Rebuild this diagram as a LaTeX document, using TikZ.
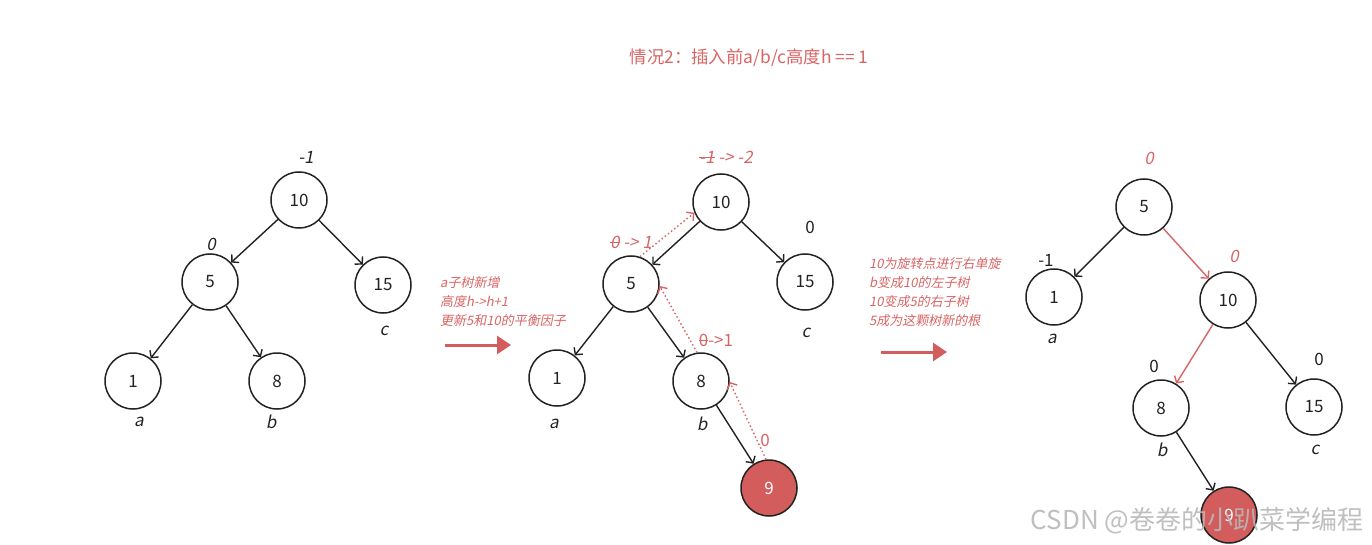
\documentclass[tikz,border=0pt]{standalone}
\usepackage{fontspec}
\setmainfont{Noto Sans CJK SC}
\newfontfamily\slfont[FakeSlant=0.2]{Noto Sans CJK SC}
\usetikzlibrary{arrows.meta}
\definecolor{rd}{HTML}{D96464}
\definecolor{ink}{HTML}{222222}
\definecolor{fillr}{HTML}{D35C5C}
\definecolor{wm}{HTML}{B8B8B8}
\newsavebox\stbox
\newcommand\strk[1]{\sbox\stbox{#1}\rlap{\usebox\stbox}\raisebox{.32em}{\rule{\wd\stbox}{1pt}}}
\begin{document}
\begin{tikzpicture}[x=1pt,y=-1pt,
 tn/.style={circle,draw=ink,line width=1.5pt,minimum size=56pt,inner sep=0pt,font=\fontsize{17}{20}\selectfont,text=ink},
 hot/.style={tn,fill=fillr,text=white},
 edge/.style={draw=ink,line width=1.4pt,-{Straight Barb[length=5pt,width=11pt]}},
 redge/.style={edge,draw=rd},
 dots/.style={draw=rd,line width=1.4pt,dash pattern=on 1.5pt off 2.5pt,-{Straight Barb[length=5pt,width=11pt]}},
 lab/.style={font=\slfont\fontsize{17}{20}\selectfont,text=ink},
 num/.style={font=\fontsize{17}{20}\selectfont,text=ink},
 rlab/.style={font=\slfont\fontsize{17}{20}\selectfont,text=rd},
 rnum/.style={font=\fontsize{17}{20}\selectfont,text=rd},
 note/.style={font=\slfont\fontsize{13}{19}\selectfont,text=rd,align=left,anchor=north west,inner sep=0pt},
 bigarrow/.style={draw=fillr,line width=3pt,-{Triangle[length=14pt,width=18pt]}}
]
\useasboundingbox (0,0) rectangle (1372,545);

% title
\node[font=\fontsize{17.4}{20}\selectfont,text=rd] (title) at (749,58) {情况2：插入前a/b/c高度h == 1};

% ---------- tree 1 ----------
\node[tn] (a10) at (299,200) {10};
\node[tn] (a5) at (210,282) {5};
\node[tn] (a15) at (383,285) {15};
\node[tn] (a1) at (133,381) {1};
\node[tn] (a8) at (277,381) {8};
\draw[edge] (a10) -- (a5);
\draw[edge] (a10) -- (a15);
\draw[edge] (a5) -- (a1);
\draw[edge] (a5) -- (a8);
\node[lab] (la10) at (306,157) {-1};
\node[lab] (la5) at (211,244) {0};
\node[lab] (lac) at (384,331) {c};
\node[lab] (laa) at (139,422) {a};
\node[lab] (lab) at (271,422) {b};

% arrow 1
\node[note] (n1) at (440,276) {a子树新增\\高度h->h+1\\更新5和10的平衡因子};
\coordinate (p1s) at (445,345);
\coordinate (p1e) at (511,345);
\draw[bigarrow] (p1s) -- (p1e);

% ---------- tree 2 ----------
\node[tn] (b10) at (721,202) {10};
\node[tn] (b5) at (631,284) {5};
\node[tn] (b15) at (805,282) {15};
\node[tn] (b1) at (557,378) {1};
\node[tn] (b8) at (701,381) {8};
\node[hot] (b9) at (769,488) {9};
\draw[edge] (b10) -- (b5);
\draw[edge] (b10) -- (b15);
\draw[edge] (b5) -- (b1);
\draw[edge] (b5) -- (b8);
\draw[edge] (b8) -- (b9);
\draw[dots] (b9.96) -- (b8.-2);
\draw[dots] (b8.98) -- (b5.-4);
\draw[dots] (b5.72) -- (b10.202);
\node[rlab] (lb10) at (726,157) {\strk{-1} -> -2};
\node[rlab] (lb5) at (631,242) {\strk{0} -> 1};
\node[rnum] (lb8) at (716,340) {\strk{0}->1};
\node[rnum] (lb9) at (765,440) {0};
\node[num] (lb15) at (810,227) {0};
\node[lab] (lbc) at (806,333) {c};
\node[lab] (lba) at (554,424) {a};
\node[lab] (lbb) at (702,424) {b};

% arrow 2
\node[note] (n2) at (869,257) {10为旋转点进行右单旋\\b变成10的左子树\\10变成5的右子树\\5成为这颗树新的根};
\coordinate (p2s) at (881,352);
\coordinate (p2e) at (947,352);
\draw[bigarrow] (p2s) -- (p2e);

% ---------- tree 3 ----------
\node[tn] (c5) at (1144,207) {5};
\node[tn] (c1) at (1054,297) {1};
\node[tn] (c10) at (1228,300) {10};
\node[tn] (c8) at (1161,408) {8};
\node[tn] (c15) at (1314,407) {15};
\node[hot] (c9) at (1229,515) {9};
\draw[edge] (c5) -- (c1);
\draw[redge] (c5) -- (c10);
\draw[redge] (c10) -- (c8);
\draw[edge] (c10) -- (c15);
\draw[edge] (c8) -- (c9);
\node[rlab] (lc5) at (1149,158) {0};
\node[num] (lc1) at (1046,260) {-1};
\node[rlab] (lc10) at (1234,256) {0};
\node[num] (lc8) at (1154,366) {0};
\node[num] (lc15) at (1319,359) {0};
\node[lab] (lca) at (1052,339) {a};
\node[lab] (lcb) at (1162,450) {b};
\node[lab] (lcc) at (1315,450) {c};

% watermark
\node[font=\fontsize{26}{28}\selectfont,text=wm,anchor=east,opacity=0.9] (wmk) at (1367,521) {CSDN @卷卷的小趴菜学编程};
\end{tikzpicture}
\end{document}
